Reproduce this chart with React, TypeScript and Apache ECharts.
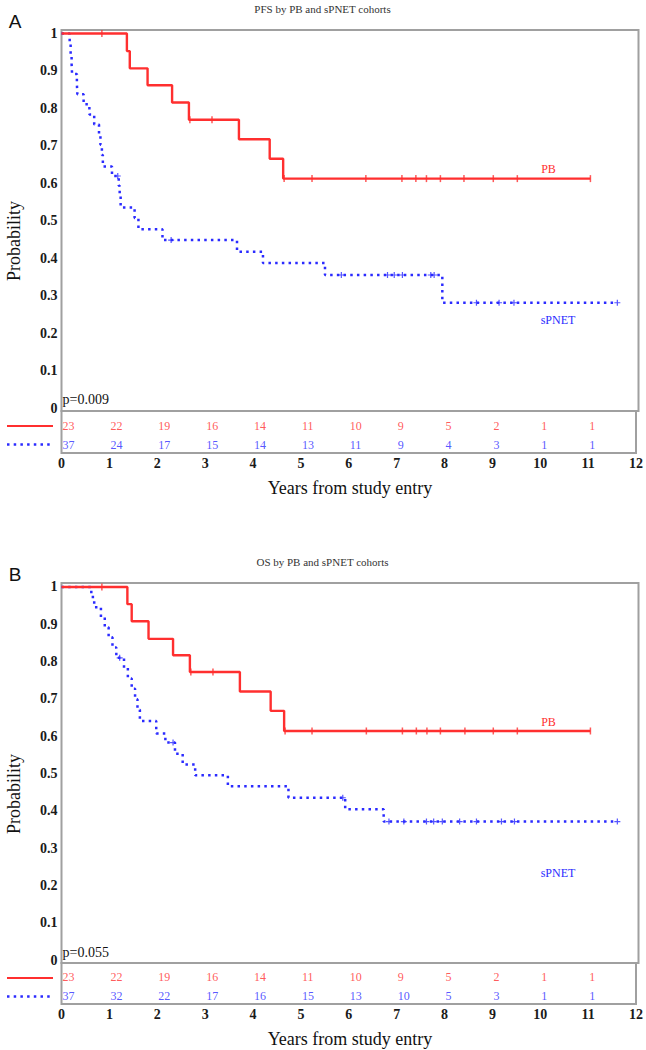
import React, { useEffect, useRef } from "react";
import * as echarts from "echarts";

// ---------- data ----------
const riskYears = [0, 1, 2, 3, 4, 5, 6, 7, 8, 9, 10, 11];
const yTickValues = [0, 0.1, 0.2, 0.3, 0.4, 0.5, 0.6, 0.7, 0.8, 0.9, 1];
const xTickValues = [0, 1, 2, 3, 4, 5, 6, 7, 8, 9, 10, 11, 12];

// PFS – PB cohort
const pfsPBTimes = [1.36, 1.42, 1.79, 2.3, 2.65, 3.69, 4.33, 4.61];
const pfsPBSurv = [0.953, 0.907, 0.862, 0.816, 0.77, 0.718, 0.666, 0.613];
const pfsPBCensor = [0.84, 2.67, 3.13, 4.63, 5.21, 6.33, 7.08, 7.37, 7.59, 7.88, 8.37, 8.98, 9.48, 11.0];
const pfsPBEnd = 11.0;

// PFS – sPNET cohort
const pfsSPTimes = [0.17, 0.19, 0.21, 0.22, 0.32, 0.33, 0.46, 0.58, 0.68, 0.78, 0.81, 0.84, 0.86, 1.05, 1.19, 1.21, 1.23, 1.52, 1.6, 2.1, 3.65, 4.19, 5.48, 7.92];
const pfsSPSurv = [0.973, 0.946, 0.919, 0.892, 0.865, 0.838, 0.811, 0.784, 0.757, 0.73, 0.703, 0.676, 0.645, 0.62, 0.594, 0.566, 0.536, 0.508, 0.478, 0.449, 0.418, 0.388, 0.356, 0.282];
const pfsSPCensor = [1.17, 2.28, 5.82, 6.78, 6.92, 7.09, 7.68, 7.75, 8.63, 9.1, 9.41, 11.56];
const pfsSPEnd = 11.56;

// OS – PB cohort
const osPBTimes = [1.37, 1.46, 1.81, 2.32, 2.67, 3.71, 4.35, 4.63];
const osPBSurv = [0.954, 0.908, 0.861, 0.817, 0.772, 0.72, 0.668, 0.614];
const osPBCensor = [0.84, 2.69, 3.15, 4.65, 5.21, 6.34, 7.09, 7.38, 7.6, 7.88, 8.39, 8.98, 9.48, 11.0];
const osPBEnd = 11.0;

// OS – sPNET cohort
const osSPTimes = [0.62, 0.68, 0.82, 0.9, 0.98, 1.06, 1.14, 1.3, 1.38, 1.46, 1.53, 1.58, 1.63, 1.97, 2.16, 2.36, 2.52, 2.78, 3.46, 4.72, 5.9, 6.7];
const osSPSurv = [0.973, 0.946, 0.919, 0.892, 0.865, 0.838, 0.81, 0.783, 0.755, 0.727, 0.699, 0.671, 0.641, 0.607, 0.583, 0.553, 0.524, 0.495, 0.466, 0.435, 0.404, 0.371];
const osSPCensor = [1.21, 2.32, 5.85, 6.81, 7.12, 7.59, 7.74, 7.92, 8.28, 8.63, 9.15, 9.42, 11.56];
const osSPEnd = 11.56;

// numbers at risk
const pfsRiskPB = [23, 22, 19, 16, 14, 11, 10, 9, 5, 2, 1, 1];
const pfsRiskSP = [37, 24, 17, 15, 14, 13, 11, 9, 4, 3, 1, 1];
const osRiskPB = [23, 22, 19, 16, 14, 11, 10, 9, 5, 2, 1, 1];
const osRiskSP = [37, 32, 22, 17, 16, 15, 13, 10, 5, 3, 1, 1];

const pValues = ["p=0.009", "p=0.055"];
const titles = ["PFS by PB and sPNET cohorts", "OS by PB and sPNET cohorts"];
const panelLetters = ["A", "B"];

// ---------- style ----------
const RED = "#ff2f2f";
const BLUE = "#2b2bff";
const FRAME = "#a0a0a0";
const SERIF = "'Liberation Serif', 'DejaVu Serif', serif";
const SANS = "'Liberation Sans', Arial, sans-serif";

function stepData(times: number[], surv: number[], end: number) {
  const d: number[][] = [[0, 1]];
  times.forEach((t, i) => d.push([t, surv[i]]));
  d.push([end, surv[surv.length - 1]]);
  return d;
}
function survAt(times: number[], surv: number[], t: number) {
  let s = 1;
  for (let i = 0; i < times.length; i++) if (times[i] <= t) s = surv[i];
  return s;
}

const PLUS = "path://M2,0h1v2h2v1h-2v2h-1v-2h-2v-1h2z";

export default function App() {
  const ref = useRef<HTMLDivElement>(null);
  useEffect(() => {
    if (!ref.current) return;
    const chart = echarts.init(ref.current, undefined, { renderer: "svg" });

    const panels = [
      { top: 30, h: 381, rh: 42, yMin: -0.0067, yMax: 1.0093,
        pb: [pfsPBTimes, pfsPBSurv, pfsPBCensor, pfsPBEnd], sp: [pfsSPTimes, pfsSPSurv, pfsSPCensor, pfsSPEnd],
        rPB: pfsRiskPB, rSP: pfsRiskSP },
      { top: 583, h: 380, rh: 41, yMin: -0.008, yMax: 1.0107,
        pb: [osPBTimes, osPBSurv, osPBCensor, osPBEnd], sp: [osSPTimes, osSPSurv, osSPCensor, osSPEnd],
        rPB: osRiskPB, rSP: osRiskSP },
    ];
    const LEFT = 61.5, WIDTH = 577;

    const grid: any[] = [], xAxis: any[] = [], yAxis: any[] = [], series: any[] = [], graphic: any[] = [];
    panels.forEach((p: any, k) => {
      const gi = k * 2;
      grid.push({ left: LEFT, top: p.top, width: WIDTH, height: p.h, show: true, borderColor: FRAME, borderWidth: 2, backgroundColor: "transparent" });
      grid.push({ left: LEFT, top: p.top + p.h, width: WIDTH, height: p.rh, show: true, borderColor: FRAME, borderWidth: 2, backgroundColor: "transparent" });
      xAxis.push({ type: "value", gridIndex: gi, min: 0, max: 12, interval: 1, axisLine: { show: false }, axisTick: { show: false }, axisLabel: { show: false }, splitLine: { show: false } });
      xAxis.push({ type: "value", gridIndex: gi + 1, min: 0, max: 12, interval: 1, axisLine: { show: false }, axisTick: { show: false }, splitLine: { show: false },
        axisLabel: { show: true, margin: 3, color: "#1a1a1a", fontFamily: SERIF, fontSize: 14, fontWeight: "bold", customValues: xTickValues, formatter: (v: number) => String(Math.round(v)) } });
      yAxis.push({ type: "value", gridIndex: gi, min: p.yMin, max: p.yMax, axisLine: { show: false }, axisTick: { show: false }, splitLine: { show: false },
        axisLabel: { show: true, margin: 4, color: "#1a1a1a", fontFamily: SERIF, fontSize: 14, fontWeight: "bold", customValues: yTickValues,
          formatter: (v: number) => { const r = Math.round(v * 10) / 10; return r === 0 ? "0" : r === 1 ? "1" : r.toFixed(1); } } });
      yAxis.push({ type: "value", gridIndex: gi + 1, min: 0, max: 1, inverse: true, show: false });

      const [pbT, pbS, pbC, pbE] = p.pb;
      const [spT, spS, spC, spE] = p.sp;
      series.push({ type: "line", xAxisIndex: gi, yAxisIndex: gi, step: "end", symbol: "none", data: stepData(spT, spS, spE),
        lineStyle: { color: BLUE, width: 2.5, type: [2.5, 4.2] }, silent: true, z: 2 });
      series.push({ type: "line", xAxisIndex: gi, yAxisIndex: gi, step: "end", symbol: "none", data: stepData(pbT, pbS, pbE),
        lineStyle: { color: RED, width: 2.4 }, silent: true, z: 3 });
      series.push({ type: "scatter", xAxisIndex: gi, yAxisIndex: gi, symbol: "rect", symbolSize: [1.5, 7],
        data: pbC.map((t: number) => [t, survAt(pbT, pbS, t)]), itemStyle: { color: RED }, silent: true, z: 4 });
      series.push({ type: "scatter", xAxisIndex: gi, yAxisIndex: gi, symbol: PLUS, symbolSize: [6, 6],
        data: spC.map((t: number) => [t, survAt(spT, spS, t)]), itemStyle: { color: BLUE }, silent: true, z: 4 });
      const riskLabel = (color: string) => ({ show: true, position: "right", distance: 1, color, fontFamily: SERIF, fontSize: 12,
        formatter: (q: any) => String(q.value[2]) });
      series.push({ type: "scatter", xAxisIndex: gi + 1, yAxisIndex: gi + 1, symbolSize: 0,
        data: riskYears.map((y, i) => [y, 0.35, p.rPB[i]]), label: riskLabel(RED), silent: true });
      series.push({ type: "scatter", xAxisIndex: gi + 1, yAxisIndex: gi + 1, symbolSize: 0,
        data: riskYears.map((y, i) => [y, 0.8, p.rSP[i]]), label: riskLabel(BLUE), silent: true });

      const txt = (text: string, x: number, y: number, font: string, fill: string, align = "center", extra: any = {}) => ({
        type: "text", x, y, silent: true, ...extra,
        style: { text, font, fill, align, textAlign: align, verticalAlign: "middle", textVerticalAlign: "middle" },
      });
      const top = p.top;
      graphic.push(txt(titles[k], 322.5, top - 21.5, `11px ${SERIF}`, "#333"));
      graphic.push(txt(panelLetters[k], 15, top - 9, `19px ${SANS}`, "#111"));
      graphic.push(txt("Probability", 14, top + 211, `18px ${SERIF}`, "#111", "center", { rotation: Math.PI / 2 }));
      graphic.push(txt(pValues[k], 62.5, top + 369, `14px ${SERIF}`, "#111", "left"));
      graphic.push(txt("PB", 548.5, top + 138.5, `12px ${SERIF}`, RED));
      graphic.push(txt("sPNET", 558, top + 290, `12px ${SERIF}`, BLUE));
      const bottom = top + p.h + p.rh;
      graphic.push(txt("Years from study entry", 350, bottom + 35, `18px ${SERIF}`, "#111"));
      const ry = top + p.h;
      graphic.push({ type: "line", silent: true, shape: { x1: 7, y1: ry + 15, x2: 53, y2: ry + 15 }, style: { stroke: RED, lineWidth: 2.2 } });
      graphic.push({ type: "line", silent: true, shape: { x1: 7, y1: ry + 33.5, x2: 53, y2: ry + 33.5 }, style: { stroke: BLUE, lineWidth: 2.5, lineDash: [2.5, 4.2] } });
    });

    chart.setOption({
      animation: false,
      backgroundColor: "#ffffff",
      grid, xAxis, yAxis, series, graphic,
    });
    return () => chart.dispose();
  }, []);
  return <div ref={ref} style={{ position: "absolute", left: 0, top: 0, width: 646, height: 1050, background: "#fff" }} />;
}
